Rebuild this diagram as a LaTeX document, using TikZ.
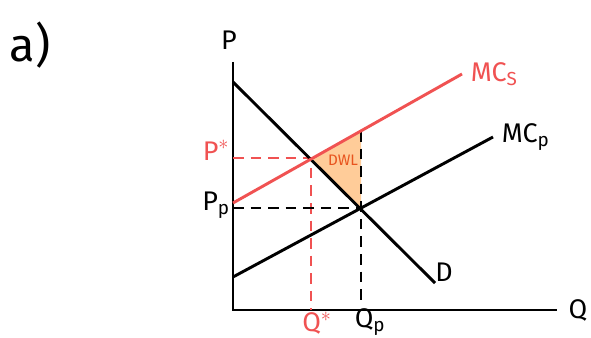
\documentclass[tikz,border=0pt]{standalone}
\usepackage{fontspec}
\setmainfont{Fira Sans}
\usetikzlibrary{positioning, calc}
\definecolor{curvered}{RGB}{240,82,82}
\definecolor{dwlfill}{RGB}{255,204,153}
\definecolor{dwltext}{RGB}{232,84,30}

\begin{document}
\begin{tikzpicture}[x=0.03cm, y=-0.03cm,
    axis/.style={line width=2.5pt},
    curve/.style={line width=2.5pt},
    guide/.style={line width=1.6pt, dash pattern=on 9pt off 6pt},
    lbl/.style={font=\fontsize{23}{25}\selectfont}]
    \useasboundingbox (0,0) rectangle (591,338);

    \coordinate (O) at (233,310);
    \coordinate (Ytop) at (233,62);
    \coordinate (Xend) at (557,310);

    % demand and the two cost curves
    \coordinate (Dstart) at (233,82);
    \coordinate (Dend) at (435,283);
    \coordinate (MCsstart) at (233,203);
    \coordinate (MCsend) at (462,74);
    \coordinate (MCpstart) at (233,277);
    \coordinate (MCpend) at (493,137);

    % intersections
    \coordinate (Sopt) at (311,158);
    \coordinate (Popt) at (361,208);
    \coordinate (Stop) at (361,131);

    \fill[dwlfill] (Sopt) -- (Popt) -- (Stop) -- cycle;

    \draw[axis] (Ytop) -- (O) -- (Xend);

    \draw[guide, curvered] (Sopt -| O) -- (Sopt) -- (Sopt |- O);
    \draw[guide] (Popt -| O) -- (Popt);
    \draw[guide] (Stop) -- ($(Popt |- O)+(0,-8)$);

    \draw[curve] (Dstart) -- (Dend);
    \draw[curve] (MCpstart) -- (MCpend);
    \draw[curve, curvered] (MCsstart) -- (MCsend);

    \node[font=\fontsize{40}{42}\selectfont] at (30,45) {a)};
    \node[lbl] at (229,40) {P};
    \node[lbl] at (578,310) {Q};
    \node[lbl] at (444,272) {D};
    \node[lbl, text=curvered, right=4pt of MCsend] {MC$_\mathrm{S}$};
    \node[lbl, right=4pt of MCpend] {MC$_\mathrm{p}$};
    \node[lbl, text=curvered] at (216,150) {P$^{*}$};
    \node[lbl] at (216,205) {P$_\mathrm{p}$};
    \node[lbl, text=curvered] at (317,323) {Q$^{*}$};
    \node[lbl] at (370,322) {Q$_\mathrm{p}$};
    \node[text=dwltext, font=\fontsize{13}{14}\selectfont] at (343,160) {DWL};
\end{tikzpicture}
\end{document}
